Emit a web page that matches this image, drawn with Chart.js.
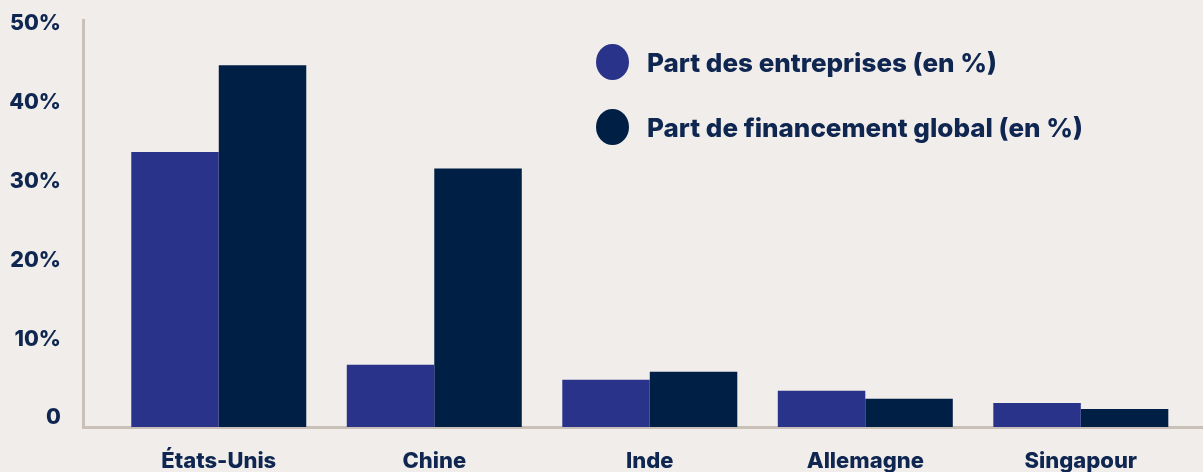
<!DOCTYPE html>
<html lang="fr">
<head>
<meta charset="utf-8">
<script src="https://cdn.jsdelivr.net/npm/chart.js@4/dist/chart.umd.min.js"></script>
<style>
  html, body { margin: 0; padding: 0; background: #f1edea; }
  #wrap { position: relative; width: 1203px; height: 472px; }
  #legend { position: absolute; left: 596px; top: 41px; font-family: Inter, sans-serif; font-weight: 800; font-size: 26px; color: #0e2650; }
  #legend .row { display: flex; align-items: center; height: 42px; margin-bottom: 23px; }
  #legend .dot { width: 33px; height: 36px; border-radius: 50%; margin-right: 18px; }
</style>
</head>
<body>
<div id="wrap">
  <canvas id="chart"></canvas>
  <div id="legend"></div>
</div>
<script>
const countries = ['États-Unis', 'Chine', 'Inde', 'Allemagne', 'Singapour'];
const partEntreprises = [34.9, 7.9, 6.0, 4.6, 3.05];
const partFinancement = [45.9, 32.8, 7.0, 3.6, 2.3];
const yTicks = [0, 10, 20, 30, 40, 50];
const seriesLabels = ['Part des entreprises (en %)', 'Part de financement global (en %)'];
const seriesColors = ['#2a338a', '#001f45'];

const textColor = '#0e2650';
const axisColor = '#c9c1b7';

const toPoints = arr => arr.map((v, i) => ({ x: i, y: v }));

const chart = new Chart(document.getElementById('chart'), {
  type: 'bar',
  data: {
    datasets: [
      { label: seriesLabels[0], data: toPoints(partEntreprises), backgroundColor: seriesColors[0] },
      { label: seriesLabels[1], data: toPoints(partFinancement), backgroundColor: seriesColors[1] },
    ],
  },
  options: {
    responsive: true,
    maintainAspectRatio: false,
    animation: false,
    layout: { padding: { top: 20, right: 0, left: 0, bottom: 0 } },
    datasets: { bar: { categoryPercentage: 0.812, barPercentage: 1 } },
    plugins: { legend: { display: false }, tooltip: { enabled: false } },
    scales: {
      x: {
        type: 'linear',
        offset: false,
        min: -0.63,
        max: 4.567,
        grid: { display: false, drawTicks: false, offset: false },
        border: { display: true, color: axisColor, width: 3 },
        afterBuildTicks: s => { s.ticks = countries.map((_, i) => ({ value: i })); },
        afterFit: s => { s.height = 45; s.paddingLeft = 0; s.paddingRight = 0; },
        ticks: {
          autoSkip: false,
          maxRotation: 0,
          padding: 21,
          color: textColor,
          font: { family: 'Inter', weight: 800, size: 22 },
          callback: v => countries[v],
        },
      },
      y: {
        min: 0,
        max: 51.65,
        grid: { display: false, drawTicks: false },
        border: { display: true, color: axisColor, width: 3 },
        afterBuildTicks: s => { s.ticks = yTicks.map(v => ({ value: v })); },
        afterFit: s => { s.width = 83; s.paddingTop = 0; s.paddingBottom = 0; },
        ticks: {
          padding: 22,
          labelOffset: -9,
          color: textColor,
          font: { family: 'Inter', weight: 800, size: 21.5 },
          callback: v => (v === 0 ? '0' : v + '%'),
        },
      },
    },
  },
});

// légende HTML à partir des datasets
const legend = document.getElementById('legend');
chart.data.datasets.forEach(ds => {
  const row = document.createElement('div');
  row.className = 'row';
  row.innerHTML = `<span class="dot" style="background:${ds.backgroundColor}"></span><span>${ds.label}</span>`;
  legend.appendChild(row);
});
</script>
</body>
</html>
